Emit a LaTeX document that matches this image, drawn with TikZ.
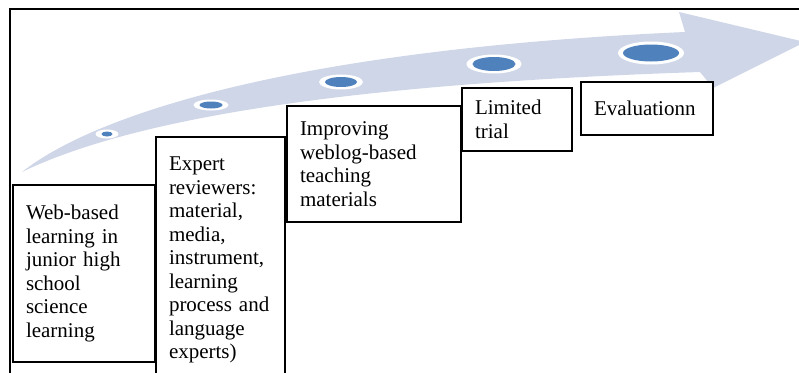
\documentclass[tikz,border=0pt]{standalone}
\usepackage{fontspec}
\setmainfont{Liberation Serif}
\usepackage{tikz}
\usetikzlibrary{positioning}
\definecolor{bandBlue}{RGB}{207,214,232}
\definecolor{dotBlue}{RGB}{79,129,189}
\tikzstyle{stageNode} = [rectangle, draw=black, line width=2pt, fill=white, outer sep=0pt, inner xsep=13pt, inner ysep=4pt, align=left, font=\fontsize{21}{23.5}\selectfont]

\begin{document}
\begin{tikzpicture}[x=1pt, y=-1pt]
    \useasboundingbox (0,0) rectangle (799,372);
    % outer frame
    \draw [line width=1.5pt] (10,400) -- (10,9) -- (820,9);
    % rising arrow
    \fill [bandBlue] (22,172) .. controls (90,118) and (280,50) .. (685,32) -- (679,12) -- (805,42) -- (713,88) -- (700,72) .. controls (400,82) and (150,110) .. (22,172) -- cycle;
    % dots along the arrow
    \foreach \cx/\cy/\ra/\rb/\ha/\hb in {107/134/5.5/2.5/11.5/4.5, 211/105/11.5/3.5/17.5/5.5, 341/82/16/5/22/7.5, 494/64/21.5/7/27.5/9.5, 651/53/28/8.5/33/11.5}
    {
        \fill [white] (\cx,\cy) ellipse ({\ha pt} and {\hb pt});
        \fill [dotBlue] (\cx,\cy) ellipse ({\ra pt} and {\rb pt});
    }
    % stages
    \node (webBased) [stageNode, text width=116pt, minimum height=177pt, anchor=north west] at (13,185) {Web-based\\learning in\\junior high\\school\\science\\learning};
    \node (experts) [stageNode, text width=103pt, minimum height=246pt, right=1pt of webBased.north east, anchor=north west, yshift=48pt] {Expert\\reviewers:\\material,\\media,\\instrument,\\learning\\process and\\language\\experts)};
    \node (improving) [stageNode, text width=148pt, minimum height=116pt, right=2pt of experts.north east, anchor=north west, yshift=31pt] {Improving\\weblog-based\\teaching\\materials};
    \node (trial) [stageNode, text width=84pt, minimum height=63pt, right=1pt of improving.north east, anchor=north west, yshift=18pt] {Limited\\trial};
    \node (evaluation) [stageNode, text width=106pt, minimum height=53pt, right=9pt of trial.north east, anchor=north west, yshift=6pt] {Evaluationn};
\end{tikzpicture}
\end{document}
